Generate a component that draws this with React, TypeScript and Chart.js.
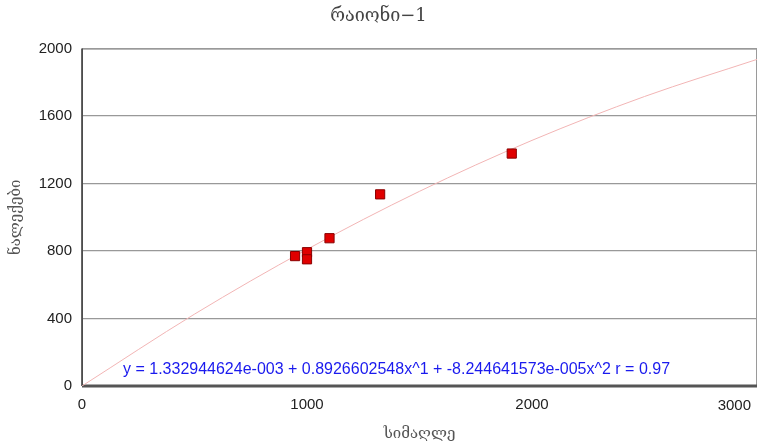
import React, { useEffect, useRef } from "react";
import { Chart, registerables } from "chart.js";

Chart.register(...registerables);

const titleText = "რაიონი−1";
const xTitle = "სიმაღლე";
const yTitle = "ნალექები";
const equationText =
  "y = 1.332944624e-003 + 0.8926602548x^1 + -8.244641573e-005x^2 r = 0.97";

// observed points (altitude, precipitation)
const obsX = [947, 1000, 1000, 1100, 1325, 1910];
const obsY = [770, 793, 751, 876, 1136, 1378];

// trend curve
const trendX = [0, 500, 1000, 1500, 2000, 2500, 3000];
const trendY = [0, 426, 810, 1154, 1456, 1716, 1936];

const xTicks = [0, 1000, 2000, 3000];

const borderPlugin = {
  id: "plotBorder",
  beforeDatasetsDraw(chart: any) {
    const { ctx, chartArea: a } = chart;
    ctx.save();
    ctx.strokeStyle = "#9a9a9a";
    ctx.lineWidth = 1;
    ctx.strokeRect(a.left + 0.5, a.top + 0.5, a.right - a.left - 1, a.bottom - a.top);
    ctx.strokeStyle = "#333";
    ctx.lineWidth = 1.5;
    ctx.beginPath();
    ctx.moveTo(a.left, a.top);
    ctx.lineTo(a.left, a.bottom);
    ctx.stroke();
    ctx.strokeStyle = "#555";
    ctx.lineWidth = 3;
    ctx.beginPath();
    ctx.moveTo(a.left, a.bottom);
    ctx.lineTo(a.right, a.bottom);
    ctx.stroke();
    ctx.restore();
  },
  afterDraw(chart: any) {
    const { ctx, chartArea: a } = chart;
    const xs = chart.scales.x;
    ctx.save();
    ctx.fillStyle = "#1a1aee";
    ctx.font = "16px 'Liberation Sans', Arial, sans-serif";
    ctx.textBaseline = "middle";
    ctx.textAlign = "left";
    ctx.fillText(equationText, a.left + 41, a.bottom - 16);
    // last x tick label kept inside the canvas
    ctx.fillStyle = "#222";
    ctx.font = "15px 'Liberation Sans', Arial, sans-serif";
    ctx.textAlign = "right";
    ctx.textBaseline = "top";
    ctx.fillText(String(xTicks[3]), xs.getPixelForValue(xTicks[3]) - 6, a.bottom + 12);
    ctx.restore();
  },
};

export default function App() {
  const ref = useRef<HTMLCanvasElement>(null);
  useEffect(() => {
    if (!ref.current) return;
    const chart = new Chart(ref.current, {
      type: "scatter",
      data: {
        datasets: [
          {
            label: "trend",
            data: trendX.map((x, i) => ({ x, y: trendY[i] })),
            showLine: true,
            borderColor: "#f2b5b5",
            borderWidth: 1,
            pointRadius: 0,
            cubicInterpolationMode: "monotone",
            order: 2,
          } as any,
          {
            label: "obs",
            data: obsX.map((x, i) => ({ x, y: obsY[i] })),
            pointStyle: "rect",
            pointRadius: 6.5,
            backgroundColor: "#e00000",
            borderColor: "#8a0000",
            borderWidth: 1,
            order: 1,
          },
        ],
      },
      options: {
        animation: false,
        responsive: false,
        layout: { autoPadding: false, padding: { left: 0, right: 2, top: 0, bottom: 0 } },
        plugins: {
          legend: { display: false },
          tooltip: { enabled: false },
          title: {
            display: true,
            text: titleText,
            color: "#444",
            font: { family: "'DejaVu Serif', serif", size: 18, weight: "normal" },
            padding: { top: 6, bottom: 21 },
          },
        },
        scales: {
          x: {
            type: "linear",
            min: 0,
            max: 3000,
            afterBuildTicks(scale: any) {
              scale.ticks = xTicks.map((v) => ({ value: v }));
            },
            afterFit(scale: any) {
              scale.paddingRight = 0;
            },
            ticks: {
              color: "#222",
              font: { family: "'Liberation Sans', Arial, sans-serif", size: 15 },
              padding: 10,
              maxRotation: 0,
              callback: (v: any) => (v === xTicks[3] ? "" : String(v)),
            },
            grid: { display: false, drawTicks: false },
            border: { display: false },
            title: {
              display: true,
              text: xTitle,
              color: "#555",
              font: { family: "'DejaVu Serif', serif", size: 15 },
              padding: { top: 1, bottom: 0 },
            },
          },
          y: {
            type: "linear",
            min: 0,
            max: 2000,
            ticks: {
              stepSize: 400,
              color: "#222",
              font: { family: "'Liberation Sans', Arial, sans-serif", size: 15 },
              padding: 10,
              callback: (v: any) => String(v),
            },
            grid: { color: "#999", lineWidth: 1.3, drawTicks: false },
            border: { display: false },
            afterFit(scale: any) {
              scale.width = 82;
            },
            title: {
              display: true,
              text: yTitle,
              color: "#555",
              font: { family: "'DejaVu Serif', serif", size: 15 },
              padding: { top: 7, bottom: 0 },
            },
          },
        },
      },
      plugins: [borderPlugin],
    });
    return () => chart.destroy();
  }, []);
  return (
    <div style={{ position: "fixed", left: 0, top: 0, width: 759, height: 443, background: "#fff" }}>
      <canvas ref={ref} width={759} height={443} style={{ display: "block" }} />
    </div>
  );
}
